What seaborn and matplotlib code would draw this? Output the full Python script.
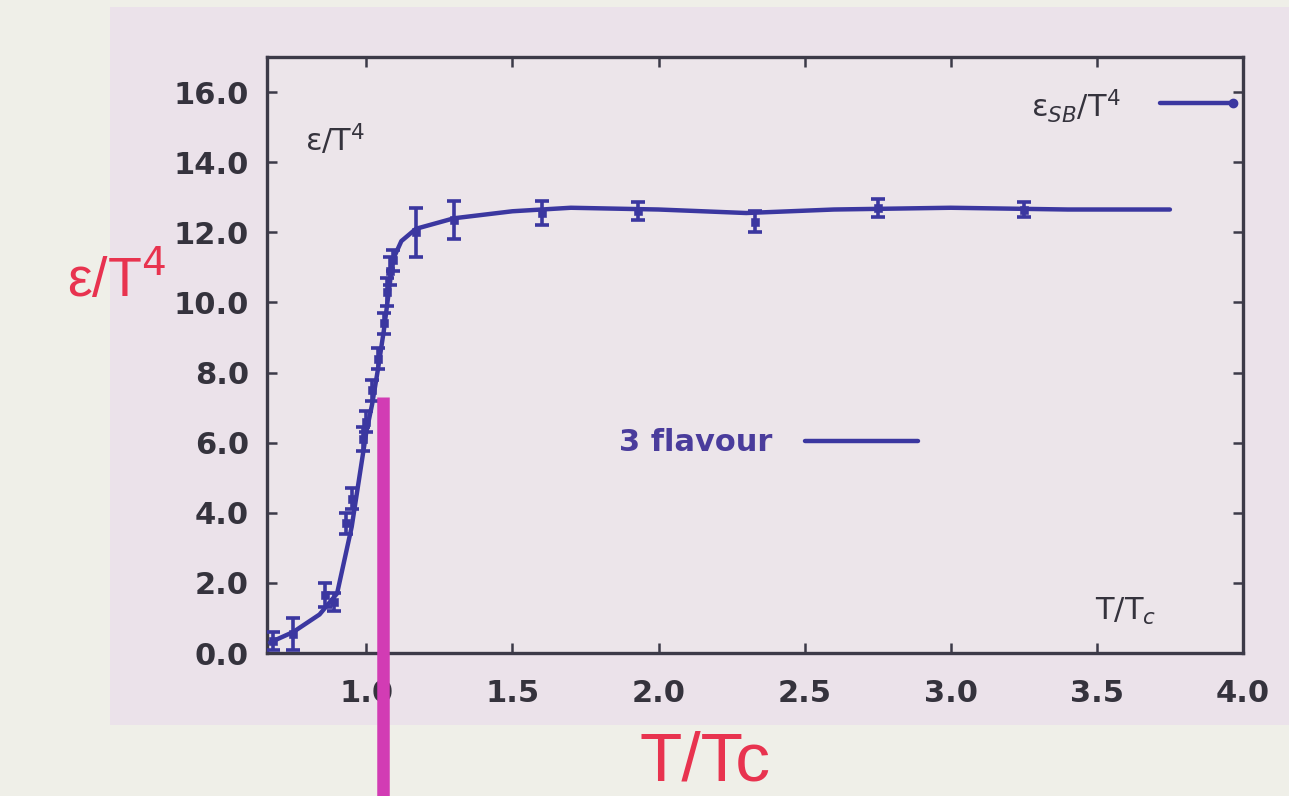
import numpy as np
import pandas as pd
import matplotlib
matplotlib.use("Agg")
import matplotlib.pyplot as plt
import seaborn as sns

# Lattice data points: T/Tc, energy density over T^4, error
t_points = [0.68, 0.75, 0.86, 0.89, 0.93, 0.95, 0.99, 1.00, 1.02, 1.04,
            1.06, 1.07, 1.08, 1.09, 1.17, 1.30, 1.60, 1.93, 2.33, 2.75, 3.25]
eps_points = [0.35, 0.55, 1.65, 1.45, 3.7, 4.4, 6.1, 6.6, 7.5, 8.4,
              9.4, 10.3, 10.9, 11.2, 12.0, 12.35, 12.55, 12.6, 12.3, 12.7, 12.65]
eps_errors = [0.25, 0.45, 0.35, 0.25, 0.3, 0.3, 0.35, 0.3, 0.3, 0.3,
              0.3, 0.4, 0.4, 0.3, 0.7, 0.55, 0.35, 0.25, 0.3, 0.25, 0.2]

# "3 flavour" curve through the data
t_curve = [0.67, 0.75, 0.84, 0.90, 0.95, 1.00, 1.02, 1.04, 1.06, 1.08,
           1.09, 1.12, 1.17, 1.30, 1.50, 1.70, 2.00, 2.30, 2.60, 3.00, 3.40, 3.75]
eps_curve = [0.3, 0.6, 1.1, 1.7, 3.6, 6.3, 7.1, 8.1, 9.2, 10.5,
             11.2, 11.75, 12.1, 12.4, 12.6, 12.7, 12.65, 12.55, 12.65, 12.7, 12.65, 12.65]

# Marker for T/Tc position
t_marker = 1.058
eps_marker_top = 7.3

x_ticks = [1.0, 1.5, 2.0, 2.5, 3.0, 3.5, 4.0]
y_ticks = [0, 2, 4, 6, 8, 10, 12, 14, 16]

sns.set_theme(style="ticks")
plt.rcParams["font.family"] = ["DejaVu Sans"]

outer_bg = "#efefe8"
panel_bg = "#ebe2ea"
ink = "#3b37a0"
frame = "#3c3a48"
dark_text = "#35333d"
red = "#e8334f"

fig = plt.figure(figsize=(12.89, 7.96), dpi=100, facecolor=outer_bg)
fig.patches.append(plt.Rectangle((0.085, 0.089), 0.915, 0.902, transform=fig.transFigure,
                                 facecolor=panel_bg, edgecolor="none", zorder=-5))
ax = fig.add_axes([0.2071, 0.1796, 0.7572, 0.7488])
ax.set_facecolor("#ece5ea")

curve = pd.DataFrame({"T": t_curve, "eps": eps_curve})
pts = pd.DataFrame({"T": t_points, "eps": eps_points, "err": eps_errors})

sns.lineplot(data=curve, x="T", y="eps", ax=ax, color=ink, lw=3.2, sort=True, zorder=3)
ax.errorbar(pts["T"], pts["eps"], yerr=pts["err"], fmt="none", ecolor=ink,
            elinewidth=2.6, capsize=5, capthick=2.6, zorder=4)
sns.scatterplot(data=pts, x="T", y="eps", ax=ax, color=ink, marker="s", s=28,
                edgecolor=ink, zorder=5)

ax.set_xlim(0.66, 4.0)
ax.set_ylim(0, 17)
ax.set_xticks(x_ticks)
ax.set_xticklabels([f"{v:.1f}" for v in x_ticks])
ax.set_yticks(y_ticks)
ax.set_yticklabels([f"{v:.1f}" for v in y_ticks])
ax.set_xlabel("")
ax.set_ylabel("")

for s in ax.spines.values():
    s.set_visible(True)
    s.set_color(frame)
    s.set_linewidth(2.4)
ax.tick_params(axis="both", direction="in", length=7, width=1.8, color=frame,
               top=True, right=True, labelsize=22, labelcolor=dark_text)
ax.tick_params(axis="x", pad=19)
ax.tick_params(axis="y", pad=13)
for lab in ax.get_xticklabels() + ax.get_yticklabels():
    lab.set_fontweight("bold")

# In-panel annotations
ax.text(0.039, 0.862, "ε/T$^{4}$", transform=ax.transAxes, fontsize=22,
        color=dark_text, va="center", ha="left")
ax.text(0.874, 0.918, "ε$_{SB}$/T$^{4}$", transform=ax.transAxes, fontsize=22,
        color=dark_text, va="center", ha="right")
ax.plot([0.915, 0.99], [0.923, 0.923], transform=ax.transAxes, color=ink, lw=3.2,
        marker="o", markersize=6, markevery=[1], clip_on=False, zorder=6)
ax.text(0.361, 0.354, "3 flavour", transform=ax.transAxes, fontsize=22, fontweight="bold",
        color="#4a3c9c", va="center", ha="left")
ax.plot([0.551, 0.667], [0.356, 0.356], transform=ax.transAxes, color=ink, lw=3.2)
ax.text(0.848, 0.07, "T/T$_{c}$", transform=ax.transAxes, fontsize=22,
        color=dark_text, va="center", ha="left")

# Vertical marker bar running down past the axis
ax.plot([t_marker, t_marker], [eps_marker_top, -4.6], color="#d23cb4", lw=9,
        solid_capstyle="butt", clip_on=False, zorder=10)

# Large red axis titles
fig.text(0.052, 0.648, "ε/T$^{4}$", fontsize=40, color=red, ha="left", va="center",
         family=["Liberation Sans", "DejaVu Sans"])
fig.text(0.547, 0.02, "T/Tc", fontsize=50, color=red, ha="center", va="baseline",
         family=["Liberation Sans", "DejaVu Sans"])

fig.savefig("out.png", dpi=100, facecolor=outer_bg)
